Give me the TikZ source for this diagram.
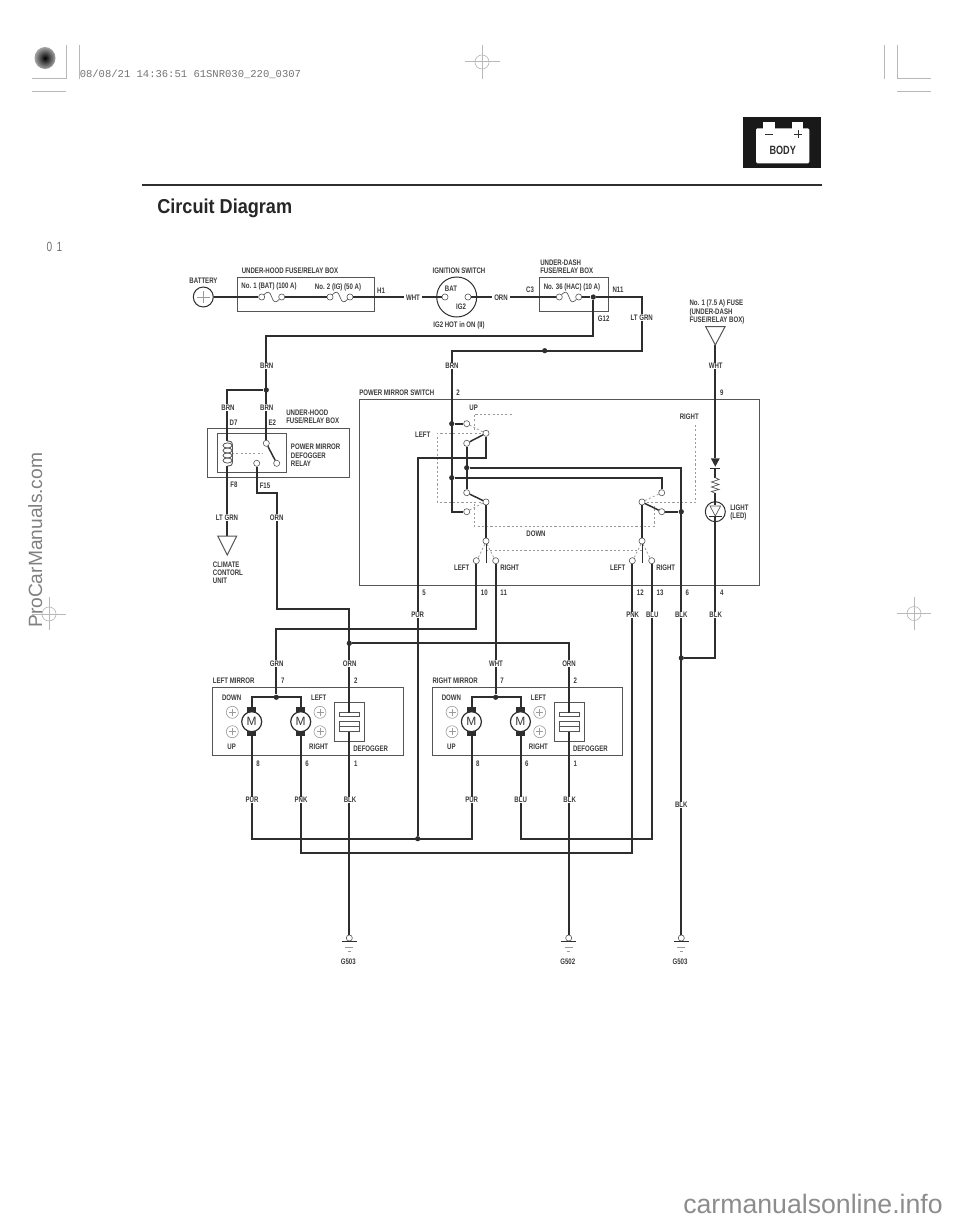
\documentclass[tikz,border=0pt]{standalone}
\usepackage{fontspec}
\setmainfont{Liberation Sans}
\newfontfamily\nar{Liberation Sans}[FakeStretch=0.76]
\newfontfamily\titlef{Liberation Sans}[FakeStretch=0.9]
\newfontfamily\monof{Liberation Mono}
\usetikzlibrary{positioning,calc}
\definecolor{ink}{HTML}{2E2E2E}
\definecolor{txt}{HTML}{3A3A3A}
\definecolor{thin}{HTML}{555555}
\definecolor{dashc}{HTML}{9A9A9A}
\definecolor{mark}{HTML}{B8B8B8}
\newcounter{lc}
\tikzset{
  wire/.style={draw=ink,line width=1.5pt,line join=miter},
  box/.style={draw=thin,line width=0.75pt},
  dashline/.style={draw=dashc,line width=0.55pt,dash pattern=on 1.6pt off 1.6pt},
  term/.style={circle,draw=thin,fill=white,line width=0.45pt,minimum size=4.6pt,inner sep=0pt},
  dotn/.style={circle,fill=ink,minimum size=3.9pt,inner sep=0pt},
  lab/.style={text=txt,inner sep=0pt,font=\nar\bfseries\fontsize{6}{6.2}\selectfont},
  labw/.style={lab,fill=white,inner xsep=1.5pt,inner ysep=1pt},
  labv/.style={lab,fill=white,inner xsep=0pt,inner ysep=0.3pt},
  labl/.style={lab,anchor=west,align=left},
  wirethin/.style={draw=thin,line width=0.5pt},
  regmark/.style={draw=mark,line width=0.75pt},
  plusc/.style={circle,draw=dashc,line width=0.45pt,minimum size=9pt,inner sep=0pt},
  motor/.style={circle,draw=ink,fill=white,line width=0.9pt,minimum size=15pt,inner sep=0pt,font=\fontsize{9}{9}\selectfont,text=txt},
  cap/.style={fill=ink,draw=none},
}
\newcommand\lbC[2]{\stepcounter{lc}\node[lab] (L\arabic{lc}) at (#1) {#2};}
\newcommand\lbW[2]{\stepcounter{lc}\node[labw] (L\arabic{lc}) at (#1) {#2};}
\newcommand\lbV[2]{\stepcounter{lc}\node[labv] (L\arabic{lc}) at (#1) {#2};}
\newcommand\lbL[2]{\stepcounter{lc}\node[labl] (L\arabic{lc}) at (#1) {#2};}
\begin{document}
\begin{tikzpicture}[x=0.75pt,y=-0.75pt]
\useasboundingbox (0,0) rectangle (960,1223);

% ---------- header
\fill[black!90] (743.3,117.3) rectangle (820.7,168.3);
\fill[white,rounded corners=1pt] (756,128.3) rectangle (809.3,163.3);
\fill[white] (763.3,122.3) rectangle (775,129);
\fill[white] (791.7,122.3) rectangle (803.3,129);
\draw[ink,line width=1pt] (765,134.3) -- (773.3,134.3);
\draw[ink,line width=1pt] (794.3,134.3) -- (802.3,134.3) (798.3,130.3) -- (798.3,138.3);
\node[text=ink,inner sep=0pt,font=\nar\bfseries\fontsize{9}{9}\selectfont] (bodytxt) at (782.7,150) {BODY};
\draw[ink,line width=1.5pt] (142,185.3) -- (821.7,185.3);
\node[anchor=west,inner sep=0pt,text=black!85,font=\titlef\bfseries\fontsize{15.1}{15.1}\selectfont] (title) at (157,208.5) {Circuit Diagram};
\node[inner sep=0pt,text=black!55,font=\nar\fontsize{10}{10}\selectfont] (pg) at (54.5,247) {0\,\,1};

% ---------- print marks
\shade[inner color=black,outer color=black!35] (45,58) ellipse (10.5 and 11);
\draw[regmark] (66,45) -- (66,79) -- (32,79);
\draw[regmark] (32,92) -- (66,92);
\draw[regmark] (79,45) -- (79,79);
\draw[regmark] (884,45) -- (884,79);
\draw[regmark] (897,45) -- (897,79) -- (931,79);
\draw[regmark] (897,92) -- (931,92);
\draw[regmark] (465,62) -- (500,62) (482,45) -- (482,79);
\draw[regmark,line width=0.5pt] (482,62) ellipse (7 and 7);
\draw[regmark] (32,614) -- (66,614) (49,597) -- (49,630);
\draw[regmark,line width=0.5pt] (49,614) circle (7);
\draw[regmark] (897,613.5) -- (931,613.5) (914,597) -- (914,630);
\draw[regmark,line width=0.5pt] (914,613.5) circle (7);
\node[anchor=west,inner sep=0pt,text=black!55,font=\monof\fontsize{7.9}{7.9}\selectfont] (stamp) at (79.5,74.5) {08/08/21 14:36:51 61SNR030\_220\_0307};
\node[anchor=base west,rotate=90,inner sep=0pt,text=black!50,font=\fontsize{14.4}{14.4}\selectfont] (wm1) at (42,628) {ProCarManuals.com};
\node[anchor=base east,inner sep=0pt,text=black!45,font=\fontsize{20}{20}\selectfont] (wm2) at (943,1213) {carmanualsonline.info};

% ---------- boxes
\draw[box] (237,277.3) rectangle (374,311.7);
\draw[box] (539.3,277.3) rectangle (608.3,311.7);
\draw[box] (207.7,428.7) rectangle (349.3,477.7);
\draw[box] (217.7,433.3) rectangle (286.3,472.7);
\draw[box] (359,399.7) rectangle (759.3,585);
\draw[box] (212.7,687.7) rectangle (403.3,755.7);
\draw[box] (432.3,687.7) rectangle (622.7,755.7);

% ---------- terminals and dots
\node[circle,draw=ink,line width=0.75pt,minimum size=15pt,inner sep=0pt] (bat) at (203.3,297) {};
\draw[wirethin,draw=dashc] (197,297) -- (209.5,297) (203.3,291) -- (203.3,303);
\node[term] (f1a) at (261.7,297) {};
\node[term] (f1b) at (281.7,297) {};
\node[term] (f2a) at (330,297) {};
\node[term] (f2b) at (350,297) {};
\node[circle,draw=ink,line width=0.75pt,minimum size=30pt,inner sep=0pt] (ig) at (456.7,297) {};
\node[term] (igb) at (445,297) {};
\node[term] (igi) at (468,297) {};
\node[term] (f3a) at (559.3,297) {};
\node[term] (f3b) at (578.7,297) {};
\node[dotn] (d1) at (593.3,297) {};
\node[dotn] (d2) at (544.7,350.7) {};
\node[dotn] (d3) at (451.7,423.7) {};
\node[dotn] (d4) at (451.7,477.7) {};
\node[dotn] (d5) at (266.3,390) {};
\node[dotn] (d6) at (349.3,643.3) {};
\node[dotn] (d7) at (466.7,467.7) {};
\node[dotn] (d8) at (417.7,838.7) {};
\node[dotn] (d9) at (276.3,697.3) {};
\node[dotn] (d10) at (495.7,697.3) {};
\node[dotn] (d11) at (681.3,511.7) {};
\node[dotn] (d12) at (681.3,658) {};
\node[term] (te2) at (266.3,443.3) {};
\node[term] (tno) at (276.7,463.3) {};
\node[term] (tnc) at (256.7,463.3) {};
\node[term] (tup) at (466.7,423.7) {};
\node[term] (tul) at (466.7,443.3) {};
\node[term] (tp1) at (486,433.3) {};
\node[term] (tll) at (466.7,492.7) {};
\node[term] (tld) at (466.7,511.7) {};
\node[term] (tp2) at (486,502) {};
\node[term] (tlo) at (486,541) {};
\node[term] (t10) at (476.3,560.7) {};
\node[term] (t11) at (495.7,560.7) {};
\node[term] (tr1) at (661.7,492.7) {};
\node[term] (tr2) at (661.7,511.7) {};
\node[term] (tp3) at (642,502) {};
\node[term] (tro) at (642,541) {};
\node[term] (t12) at (632.3,560.7) {};
\node[term] (t13) at (651.7,560.7) {};
\node[term] (g1) at (349.3,938) {};
\node[term] (g2) at (568.7,938) {};
\node[term] (g3) at (681.3,938) {};

% ---------- waypoints
\coordinate (cn11) at (642.3,297);
\coordinate (clt) at (642.3,350.7);
\coordinate (cb) at (451.7,350.7);
\coordinate (cbb) at (451.7,511.7);
\coordinate (cg1) at (593.3,336);
\coordinate (cg2) at (266.3,336);
\coordinate (cc1) at (227.3,390);
\coordinate (coilt) at (227.3,441);
\coordinate (coilb) at (227.3,466);
\coordinate (tri1) at (227.3,536);
\coordinate (ca1) at (256.7,492.7);
\coordinate (ca2) at (276.7,492.7);
\coordinate (ca3) at (276.7,609.3);
\coordinate (ca4) at (349.3,609.3);
\coordinate (def1t) at (349.3,712.5);
\coordinate (def1b) at (349.3,731.7);
\coordinate (cd1) at (568.7,643.3);
\coordinate (def2t) at (568.7,712.5);
\coordinate (def2b) at (568.7,731.7);
\coordinate (cr1) at (661.7,477.7);
\coordinate (ck1) at (681.3,467.7);
\coordinate (cp1) at (486,458.3);
\coordinate (cp2) at (417.7,458.3);
\coordinate (m1b) at (251.7,736);
\coordinate (m2b) at (300.7,736);
\coordinate (m3b) at (471.7,736);
\coordinate (m4b) at (520.7,736);
\coordinate (m1t) at (251.7,707);
\coordinate (m2t) at (300.7,707);
\coordinate (m3t) at (471.7,707);
\coordinate (m4t) at (520.7,707);
\coordinate (cm1) at (251.7,697.3);
\coordinate (cm2) at (300.7,697.3);
\coordinate (cm3) at (471.7,697.3);
\coordinate (cm4) at (520.7,697.3);
\coordinate (cpu1) at (251.7,838.7);
\coordinate (cpu2) at (471.7,838.7);
\coordinate (cgr1) at (476.3,629);
\coordinate (cgr2) at (276.3,629);
\coordinate (cpk1) at (300.7,853.3);
\coordinate (cpk2) at (632.3,853.3);
\coordinate (cbl1) at (520.7,838.7);
\coordinate (cbl2) at (651.7,838.7);
\coordinate (cl1) at (715.3,658);
\coordinate (ledb) at (715.3,516.7);
\coordinate (ledt) at (715.3,505);
\coordinate (fuse9) at (715.3,345);
\coordinate (dio1) at (715.3,458.3);
\coordinate (dio2) at (715.3,468.3);
\coordinate (res1) at (715.3,477.7);
\coordinate (res2) at (715.3,493.3);

% ---------- dashed linkage
\draw[dashline] (481,433.3) -- (437.3,433.3) -- (437.3,502) -- (481,502);
\draw[dashline] (511.7,414) -- (474.3,414) -- (474.3,431);
\draw[dashline] (469.5,425) -- (483,432);
\draw[dashline] (469.5,510) -- (483,503);
\draw[dashline] (474.3,504) -- (474.3,526.3) -- (654,526.3) -- (654,506);
\draw[dashline] (695.7,425) -- (695.7,502) -- (646,502);
\draw[dashline] (645,500.5) -- (659,494);
\draw[dashline] (486,550.7) -- (642,550.7);
\draw[dashline] (485,544) -- (478,558);
\draw[dashline] (487,544) -- (494,558);
\draw[dashline] (641,544) -- (634,558);
\draw[dashline] (643,544) -- (650,558);
\draw[dashline] (232,453) -- (262,453);

% ---------- wires
\draw[wire] (bat) -- (f1a);
\draw[wire] (f1b) -- (f2a);
\draw[wire] (f2b) -- (igb);
\draw[wire] (igi) -- (f3a);
\draw[wire] (f3b) -- (d1);
\draw[wire] (d1) -- (cn11) -- (clt) -- (cb) -- (cbb) -- (tld);
\draw[wire] (d3) -- (tup);
\draw[wire] (d4) -- (cr1) -- (tr1);
\draw[wire] (d1) -- (cg1) -- (cg2) -- (te2);
\draw[wire] (d5) -- (cc1) -- (coilt);
\draw[wire] (coilb) -- (tri1);
\draw[wire] (tnc) -- (ca1) -- (ca2) -- (ca3) -- (ca4) -- (def1t);
\draw[wire] (d6) -- (cd1) -- (def2t);
\draw[wire] (def1b) -- (g1);
\draw[wire] (def2b) -- (g2);
\draw[wire,line width=1.1pt] (te2) -- (tno);
\draw[wire,line width=1.1pt] (tp1) -- (tul);
\draw[wire] (tul) -- (tll);
\draw[wire] (d7) -- (ck1) -- (g3);
\draw[wire] (tp1) -- (cp1) -- (cp2) -- (d8);
\draw[wire,line width=1.1pt] (tp2) -- (tll);
\draw[wire] (tp2) -- (tlo);
\draw[wire,line width=1.1pt] (tp3) -- (tr2);
\draw[wire] (tp3) -- (tro);
\draw[wire] (tr2) -- (d11);
\draw[wire] (t10) -- (cgr1) -- (cgr2) -- (d9);
\draw[wire] (t11) -- (d10);
\draw[wire] (m1t) -- (cm1) -- (cm2) -- (m2t);
\draw[wire] (m3t) -- (cm3) -- (cm4) -- (m4t);
\draw[wire] (m1b) -- (cpu1) -- (cpu2) -- (m3b);
\draw[wire] (m2b) -- (cpk1) -- (cpk2) -- (t12);
\draw[wire] (m4b) -- (cbl1) -- (cbl2) -- (t13);
\draw[wire] (d12) -- (cl1) -- (ledb);
\draw[wire] (fuse9) -- (dio1);
\draw[wire] (dio2) -- (res1);
\draw[wire] (res2) -- (ledt);
\draw[draw=ink,line width=0.7pt] (tlo) -- (486,562.7);
\draw[draw=ink,line width=0.7pt] (tro) -- (642,562.7);

% ---------- fuses
\foreach \a/\b in {f1a/f1b,f2a/f2b,f3a/f3b}{
  \draw[wirethin] (\a) .. controls ($(\a)!0.3!(\b)+(0,-6)$) and ($(\a)!0.4!(\b)+(0,-6)$) .. ($(\a)!0.5!(\b)$) .. controls ($(\a)!0.6!(\b)+(0,6)$) and ($(\a)!0.7!(\b)+(0,6)$) .. (\b);
}

% ---------- coil
\foreach \yy in {445,450,455,460}
  \draw[wirethin,line width=0.6pt] (227.5,\yy+0.5) ellipse (4.5 and 2.6);
\draw[wirethin,line width=0.7pt] (coilt) .. controls (232,441.5) .. (232.5,446) -- (232.5,461) .. controls (232,465.5) .. (coilb);

% ---------- triangles
\draw[box] (217.7,536) -- (236.7,536) -- (227.3,555) -- cycle;
\draw[box] (705.7,326.7) -- (725,326.7) -- (715.3,345) -- cycle;

% ---------- diode and LED
\fill[ink] (710.8,458.3) -- (719.8,458.3) -- (715.3,466.7) -- cycle;
\draw[ink,line width=0.8pt] (710.3,468.3) -- (720.3,468.3);
\draw[wirethin,line width=0.55pt] (res1) -- (719,479.5) -- (711.5,482) -- (719,484.5) -- (711.5,487) -- (719,489.5) -- (711.5,491.5) -- (res2);
\node[circle,draw=ink,line width=0.75pt,minimum size=15pt,inner sep=0pt] (led) at (715.3,511.7) {};
\draw[wirethin] (710,506) -- (720.6,506) -- (715.3,516) -- cycle;
\draw[ink,line width=0.9pt] (708.8,516.7) -- (721.8,516.7);

% ---------- grounds
\foreach \gx in {349.3,568.7,681.3}{
  \draw[ink,line width=0.8pt] (\gx-7.5,941.7) -- (\gx+7.5,941.7);
  \draw[dashc,line width=0.5pt] (\gx-4,947) -- (\gx+4,947);
  \draw[dashc,line width=0.5pt] (\gx-1.5,951) -- (\gx+1.5,951);
}

% ---------- mirrors
\foreach \ox/\mx in {0/a,219.7/b}{
 \begin{scope}[xshift=\ox*0.75pt]
  \fill[ink] (247.2,707.3) rectangle (256.2,736);
  \fill[ink] (296.2,707.3) rectangle (305.2,736);
  \node[motor] (m1\mx) at (251.7,721.7) {M};
  \node[motor] (m2\mx) at (300.7,721.7) {M};
  \node[plusc] (p1\mx) at (232.3,712.3) {};
  \node[plusc] (p2\mx) at (232.3,731.7) {};
  \node[plusc] (p3\mx) at (320,712.3) {};
  \node[plusc] (p4\mx) at (320,731.7) {};
  \foreach \px/\py in {232.3/712.3,232.3/731.7,320/712.3,320/731.7}
    \draw[dashc,line width=0.4pt] (\px-3.5,\py) -- (\px+3.5,\py) (\px,\py-3.5) -- (\px,\py+3.5);
  \draw[box,line width=0.6pt] (334.7,702) rectangle (364.3,741.7);
  \draw[wirethin,line width=0.55pt,fill=white] (339.3,712) rectangle (359.3,716.7);
  \draw[wirethin,line width=0.55pt,fill=white] (339.3,721.7) rectangle (359.3,726.7);
  \draw[wirethin,line width=0.55pt,fill=white] (339.3,726.7) rectangle (359.3,731.7);
 \end{scope}
}
\draw[wire] (ca4) -- (def1t);
\draw[wire] (cd1) -- (def2t);
\draw[wire] (def1b) -- (g1);
\draw[wire] (def2b) -- (g2);

% ---------- labels
\lbC{203.5,280.5}{BATTERY}
\lbC{290,270.5}{UNDER-HOOD FUSE/RELAY BOX}
\lbC{269,286.5}{No. 1 (BAT) (100 A)}
\lbC{338,287.5}{No. 2 (IG) (50 A)}
\lbC{381,290.5}{H1}
\lbW{413,298}{WHT}
\lbC{459,270.5}{IGNITION SWITCH}
\lbC{451,288.5}{BAT}
\lbC{461,307}{IG2}
\lbC{459,325}{IG2 HOT in ON (II)}
\lbW{501,298}{ORN}
\lbC{530,290}{C3}
\lbL{540,267}{UNDER-DASH\\FUSE/RELAY BOX}
\lbC{572,287}{No. 36 (HAC) (10 A)}
\lbC{618,290}{N11}
\lbC{603.7,319}{G12}
\lbV{641.7,317.5}{LT GRN}
\lbL{689.3,312}{No. 1 (7.5 A) FUSE\\(UNDER-DASH\\FUSE/RELAY BOX)}
\lbV{266.7,366}{BRN}
\lbV{452,366}{BRN}
\lbV{715.7,366}{WHT}
\lbL{359,392.5}{POWER MIRROR SWITCH}
\lbC{458,392.5}{2}
\lbC{721.7,392.5}{9}
\lbV{228,407.5}{BRN}
\lbV{266.7,407.5}{BRN}
\lbC{233.5,423}{D7}
\lbC{272.3,423}{E2}
\lbL{286,417}{UNDER-HOOD\\FUSE/RELAY BOX}
\lbL{290.7,455.3}{POWER MIRROR\\DEFOGGER\\RELAY}
\lbC{473.7,407.5}{UP}
\lbC{422.7,434.5}{LEFT}
\lbC{689.3,417}{RIGHT}
\lbC{536,534}{DOWN}
\lbC{234,485}{F8}
\lbC{265,485.5}{F15}
\lbV{227,517.5}{LT GRN}
\lbV{276.7,517.5}{ORN}
\lbL{212.7,572.7}{CLIMATE\\CONTORL\\UNIT}
\lbL{730,512.3}{LIGHT\\(LED)}
\lbC{461.7,568}{LEFT}
\lbC{509.7,568}{RIGHT}
\lbC{617.7,568}{LEFT}
\lbC{665.7,568}{RIGHT}
\lbC{424,593}{5}
\lbC{484.3,593}{10}
\lbC{503.7,593}{11}
\lbC{640.3,593}{12}
\lbC{660,593}{13}
\lbC{687.3,593}{6}
\lbC{721.7,593}{4}
\lbV{417.7,615}{PUR}
\lbV{632.7,615}{PNK}
\lbV{652.3,615}{BLU}
\lbV{681.3,615}{BLK}
\lbV{715.7,615}{BLK}
\lbV{276.7,663.5}{GRN}
\lbV{349.7,663.5}{ORN}
\lbV{496,663.5}{WHT}
\lbV{569,663.5}{ORN}
\lbL{212.7,680.5}{LEFT MIRROR}
\lbC{282.7,680.5}{7}
\lbC{355.7,680.5}{2}
\lbL{432.3,680.5}{RIGHT MIRROR}
\lbC{502,680.5}{7}
\lbC{575.3,680.5}{2}
\lbC{231.7,698}{DOWN}
\lbC{318.7,698}{LEFT}
\lbC{231.7,746.5}{UP}
\lbC{318.7,746.5}{RIGHT}
\lbC{370.7,748.7}{DEFOGGER}
\lbC{451.4,698}{DOWN}
\lbC{538.4,698}{LEFT}
\lbC{451.4,746.5}{UP}
\lbC{538.4,746.5}{RIGHT}
\lbC{590.4,748.7}{DEFOGGER}
\lbC{258,763.5}{8}
\lbC{307,763.5}{6}
\lbC{355.7,763.5}{1}
\lbC{477.7,763.5}{8}
\lbC{526.7,763.5}{6}
\lbC{575.4,763.5}{1}
\lbV{252,800}{PUR}
\lbV{301,800}{PNK}
\lbV{350,800}{BLK}
\lbV{471.7,800}{PUR}
\lbV{520.7,800}{BLU}
\lbV{569.7,800}{BLK}
\lbV{681.3,805}{BLK}
\lbC{348.3,961.5}{G503}
\lbC{567.7,961.5}{G502}
\lbC{680,961.5}{G503}
\end{tikzpicture}
\end{document}
